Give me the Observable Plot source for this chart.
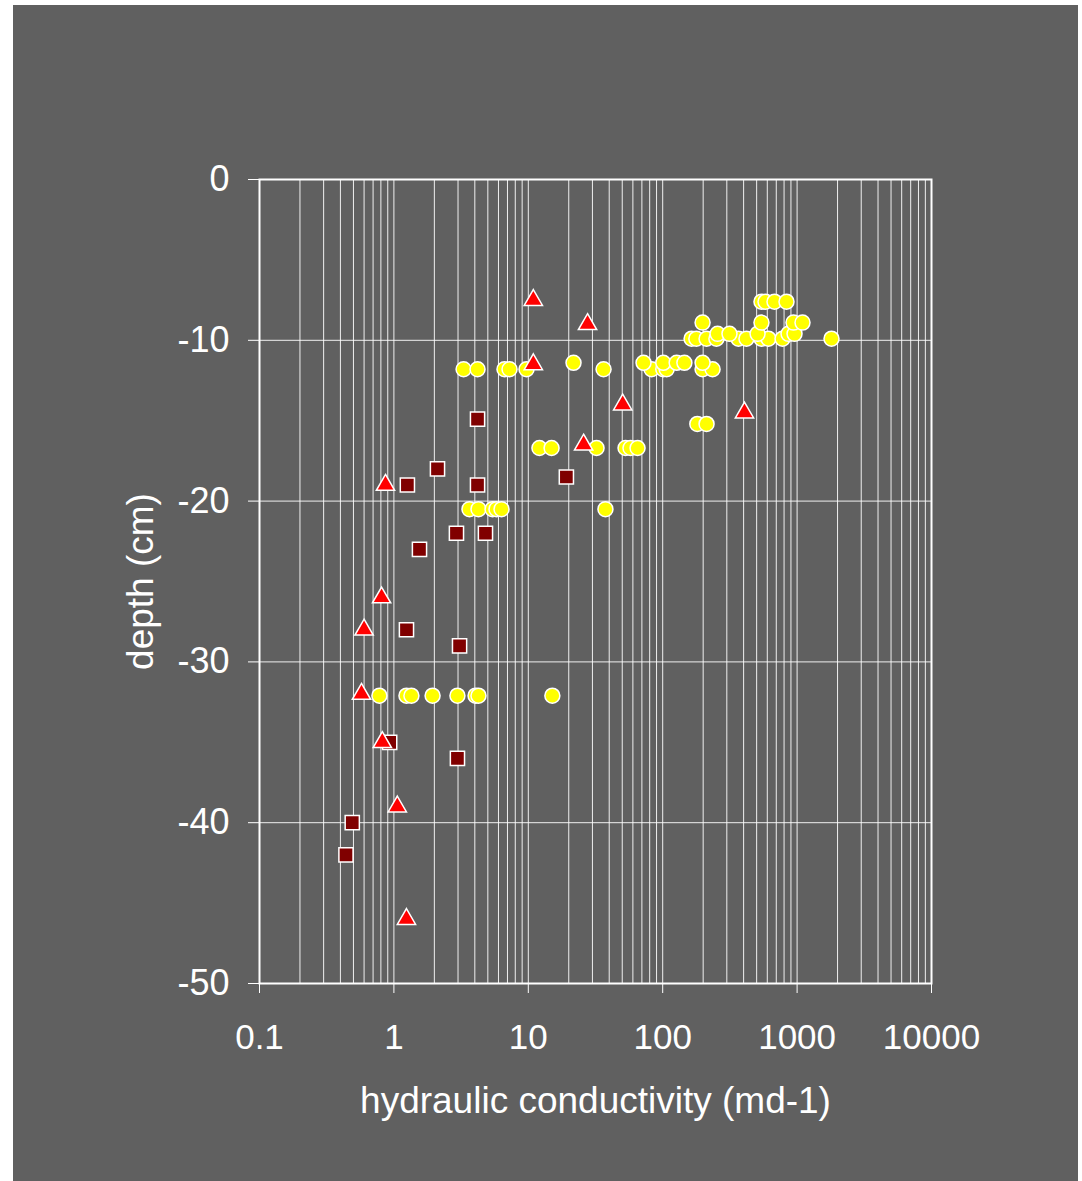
<!DOCTYPE html>
<html>
<head>
<meta charset="utf-8">
<script src="https://cdn.jsdelivr.net/npm/d3@7"></script>
<script src="https://cdn.jsdelivr.net/npm/@observablehq/plot@0.6"></script>
<style>
  html, body { margin: 0; padding: 0; background: #ffffff; }
  #chart { position: absolute; left: 13px; top: 5px; }
</style>
</head>
<body>
<div id="chart"></div>
<script>
// Yellow circles: hydraulic conductivity (m/d) and depth (cm)
const circleK = [
  3.30, 4.19, 6.65, 7.25, 9.7, 36.3, 82.6, 101, 107, 198, 235,
  21.7, 72, 101, 127, 145, 198,
  164, 178, 212, 251, 366, 420, 543, 612, 779, 1803,
  256, 314, 508, 863, 957,
  198, 543, 940, 1097,
  543, 582, 679, 834,
  181, 212,
  12.1, 14.9, 32.2, 52.9, 57.6, 65,
  3.65, 4.26, 5.42, 5.80, 6.32, 37.5,
  0.78, 1.24, 1.35, 1.94, 2.97, 4.05, 4.26, 15.1
];
const circleDepth = [
  -11.8, -11.8, -11.8, -11.8, -11.8, -11.8, -11.8, -11.8, -11.8, -11.8, -11.8,
  -11.4, -11.4, -11.4, -11.4, -11.4, -11.4,
  -9.9, -9.9, -9.9, -9.9, -9.9, -9.9, -9.9, -9.9, -9.9, -9.9,
  -9.6, -9.6, -9.6, -9.6, -9.6,
  -8.9, -8.9, -8.9, -8.9,
  -7.6, -7.6, -7.6, -7.6,
  -15.2, -15.2,
  -16.7, -16.7, -16.7, -16.7, -16.7, -16.7,
  -20.5, -20.5, -20.5, -20.5, -20.5, -20.5,
  -32.1, -32.1, -32.1, -32.1, -32.1, -32.1, -32.1, -32.1
];
// Dark red squares
const squareK = [4.19, 2.11, 1.26, 4.19, 19.2, 2.92, 4.80, 1.55, 1.24, 3.08, 0.93, 2.97, 0.49, 0.44];
const squareDepth = [-14.9, -18, -19, -19, -18.5, -22, -22, -23, -28, -29, -35, -36, -40, -42];
// Red triangles
const triK = [10.9, 27.6, 10.9, 50.4, 406, 25.8, 0.866, 0.81, 0.60, 0.574, 0.82, 1.06, 1.24];
const triDepth = [-7.5, -9, -11.5, -14, -14.5, -16.5, -19, -26, -28, -32, -35, -39, -46];

// Axis ticks
const xTickLabels = [0.1, 1, 10, 100, 1000, 10000];
const yTicks = [0, -10, -20, -30, -40, -50];
const xTitle = "hydraulic conductivity (md-1)";
const yTitle = "depth (cm)";

const toRows = (ks, ds) => ks.map((k, i) => ({k, depth: ds[i]}));
const circles = toRows(circleK, circleDepth);
const squares = toRows(squareK, squareDepth);
const triangles = toRows(triK, triDepth);

// minor grid positions (1..9 times each decade)
const minorGrid = [];
for (let e = -1; e < 4; e++) for (let m = 1; m <= 9; m++) minorGrid.push(+(m * Math.pow(10, e)).toPrecision(3));
minorGrid.push(10000);

const chart = Plot.plot({
  width: 1065,
  height: 1176,
  marginLeft: 246,
  marginRight: 147,
  marginTop: 174,
  marginBottom: 198,
  style: {
    background: "#606060",
    color: "white",
    fontFamily: "'Liberation Sans', Arial, sans-serif",
    fontSize: "35px"
  },
  x: {type: "log", domain: [0.1, 10000]},
  y: {domain: [-50, 0]},
  marks: [
    Plot.gridX(minorGrid, {stroke: "white", strokeOpacity: 0.9, strokeWidth: 1}),
    Plot.gridY([-10, -20, -30, -40], {stroke: "white", strokeOpacity: 0.9, strokeWidth: 1}),
    Plot.frame({stroke: "white", strokeWidth: 2}),
    Plot.axisX(xTickLabels, {
      tickSize: 10, tickPadding: 31, stroke: "white", fill: "white",
      tickFormat: d => String(d), label: null, fontSize: 35
    }),
    Plot.axisY(yTicks, {
      tickSize: 11, tickPadding: 19, stroke: "white", fill: "white",
      tickFormat: d => String(d), label: null, fontSize: 36
    }),
    Plot.text([xTitle], {
      frameAnchor: "bottom", dy: 118, lineAnchor: "middle", textAnchor: "middle",
      fill: "white", fontSize: 37
    }),
    Plot.text([yTitle], {
      frameAnchor: "left", dx: -118, rotate: -90, lineAnchor: "middle", textAnchor: "middle",
      fill: "white", fontSize: 37
    }),
    Plot.dot(circles, {x: "k", y: "depth", symbol: "circle", r: 7.5, fill: "#ffff00", stroke: "white", strokeWidth: 1.5}),
    Plot.dot(squares, {x: "k", y: "depth", symbol: "square", r: 8, fill: "#800000", stroke: "white", strokeWidth: 1.5}),
    Plot.dot(triangles, {x: "k", y: "depth", symbol: "triangle", r: 6.8, fill: "#ff0000", stroke: "white", strokeWidth: 1.5})
  ]
});
document.getElementById("chart").appendChild(chart);
</script>
</body>
</html>
